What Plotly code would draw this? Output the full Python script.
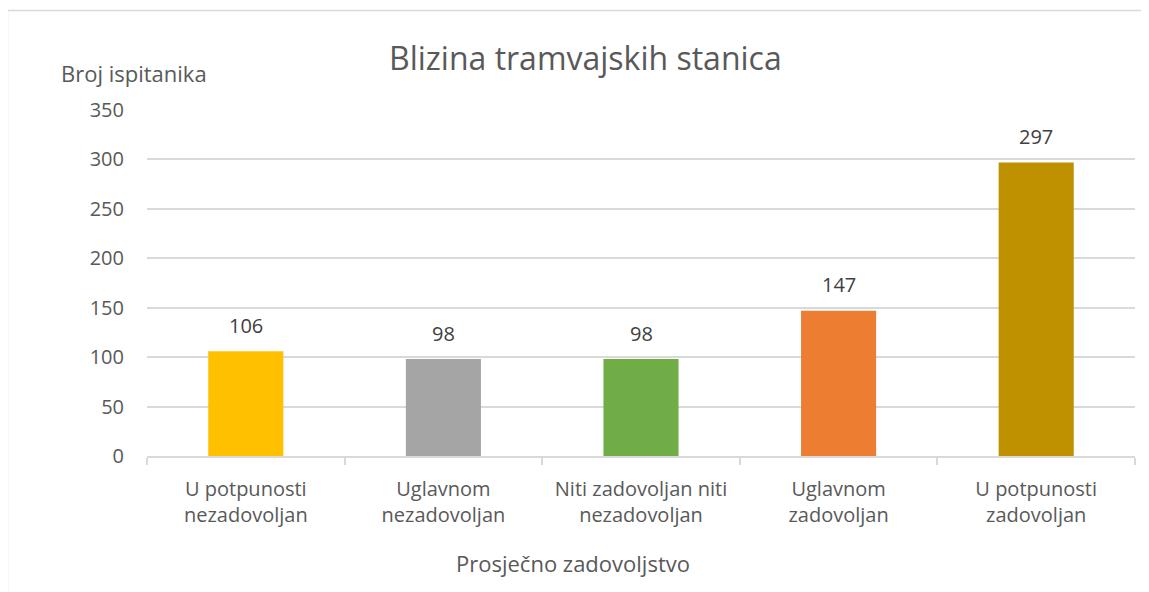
import plotly.graph_objects as go

categories = ["U potpunosti<br>nezadovoljan", "Uglavnom<br>nezadovoljan",
              "Niti zadovoljan niti<br>nezadovoljan", "Uglavnom<br>zadovoljan",
              "U potpunosti<br>zadovoljan"]
values = [106, 98, 98, 147, 297]
colors = ["#FFC000", "#A5A5A5", "#70AD47", "#ED7D31", "#BF9000"]
y_ticks = [0, 50, 100, 150, 200, 250, 300, 350]

FONT = "Open Sans"
TXT = "#595959"
OFF = 8  # page body margin
W, H = 1149 - OFF, 592 - OFF
L, R, T, B = 147 - OFF, 1135 - OFF, 110 - OFF, 456 - OFF

def px_x(x):
    return (x - OFF - L) / (R - L)

def px_y(y):
    return (B - (y - OFF)) / (B - T)

fig = go.Figure()
fig.add_trace(go.Bar(x=categories, y=values, marker=dict(color=colors, line=dict(width=0)),
                     hoverinfo="x+y"))

for c, v in zip(categories, values):
    fig.add_annotation(x=c, y=v, text=str(v), showarrow=False, yshift=26,
                       xanchor="center", yanchor="middle",
                       font=dict(family=FONT, size=20, color="#404040"))

fig.add_annotation(xref="paper", yref="paper", x=px_x(134), y=px_y(73),
                   xanchor="center", yanchor="middle",
                   text="Broj ispitanika", showarrow=False,
                   font=dict(family=FONT, size=22, color=TXT))
fig.add_annotation(xref="paper", yref="paper", x=px_x(573), y=px_y(563),
                   xanchor="center", yanchor="middle",
                   text="Prosječno zadovoljstvo", showarrow=False,
                   font=dict(family=FONT, size=22, color=TXT))
fig.add_annotation(xref="paper", yref="paper", x=px_x(585), y=px_y(58),
                   xanchor="center", yanchor="middle",
                   text="Blizina tramvajskih stanica", showarrow=False,
                   font=dict(family=FONT, size=32, color=TXT))

# outer chart border (top and left visible)
fig.add_shape(type="line", xref="paper", yref="paper",
              x0=px_x(7.5), x1=px_x(1170), y0=px_y(10.5), y1=px_y(10.5),
              line=dict(color="#D9D9D9", width=1.5))
fig.add_shape(type="line", xref="paper", yref="paper",
              x0=px_x(7.5), x1=px_x(7.5), y0=px_y(10.5), y1=px_y(620),
              line=dict(color="#D9D9D9", width=1.5))

fig.update_layout(
    width=W, height=H,
    margin=dict(l=L, r=W - R, t=T, b=H - B),
    paper_bgcolor="white", plot_bgcolor="white",
    bargap=0.62, showlegend=False,
    font=dict(family=FONT, size=20, color=TXT),
)
fig.update_xaxes(showgrid=False, showline=True, linecolor="#D9D9D9", linewidth=1.5,
                 ticks="outside", tickson="boundaries", ticklen=7, tickcolor="#D9D9D9",
                 tickwidth=1.5, ticklabelstandoff=14,
                 tickfont=dict(family=FONT, size=20, color=TXT))
fig.update_yaxes(range=[0, 350], tickvals=y_ticks, showgrid=True, gridcolor="#D9D9D9",
                 gridwidth=1.5, zeroline=False, showline=False,
                 ticklabelstandoff=22, tickfont=dict(family=FONT, size=20, color=TXT))

fig.write_html("out.html")
